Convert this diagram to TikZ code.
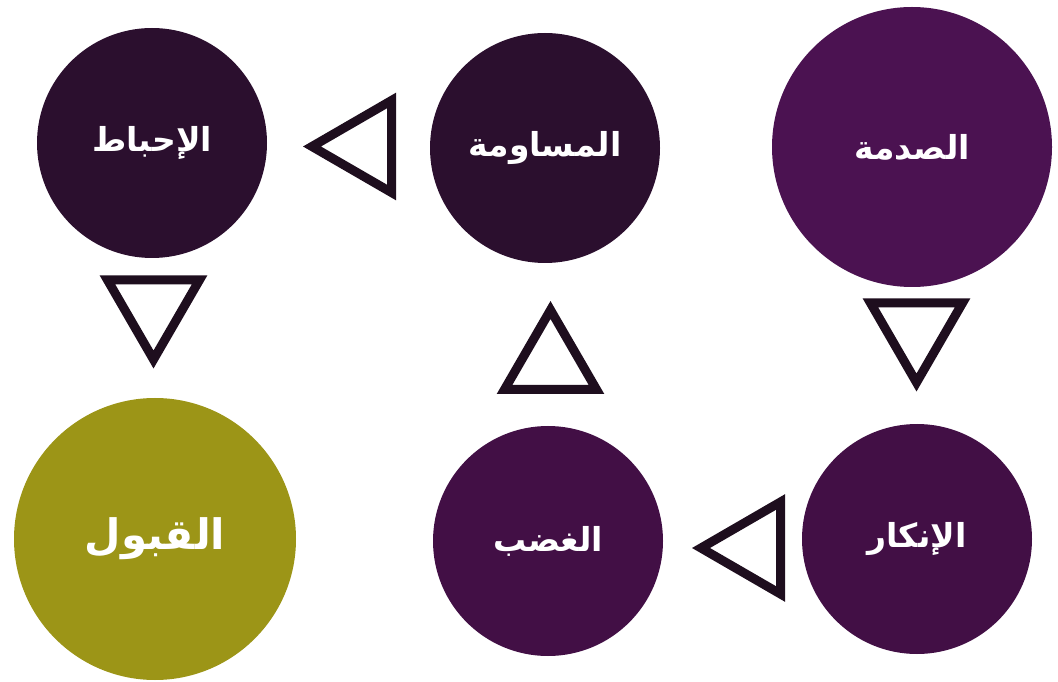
\documentclass[tikz,border=0pt]{standalone}
\usepackage{fontspec}
\usepackage{tikz}
\usetikzlibrary{calc}
\newfontfamily\arabicfont[Script=Arabic]{DejaVu Sans}
\TeXXeTstate=1

\definecolor{plumdark}{HTML}{2B0F2E}
\definecolor{plummid}{HTML}{420F45}
\definecolor{plumlight}{HTML}{4B1251}
\definecolor{olivegold}{HTML}{9C9517}
\definecolor{triline}{HTML}{1E0E1E}

\tikzset{
    stage/.style={circle, draw=none, inner sep=0pt, text=white,
        font=\arabicfont\bfseries\fontsize{33}{38}\selectfont},
    tri/.style={draw=triline, line width=9pt, miter limit=10, fill=white}
}

\begin{document}
\begin{tikzpicture}[x=1pt, y=1pt]
    \useasboundingbox (0, 0) rectangle (1058, 681);

    % Top row: shock, bargaining, depression
    \node[stage, fill=plumlight, minimum size=280pt] (shock) at (912, 534) {\beginR الصدمة\endR};
    \node[stage, fill=plumdark, minimum size=230pt] (bargain) at (545, 533) {\beginR المساومة\endR};
    \node[stage, fill=plumdark, minimum size=230pt] (depress) at (152, 538) {\beginR الإحباط\endR};

    % Bottom row: denial, anger, acceptance
    \node[stage, fill=plummid, minimum size=230pt] (denial) at (917, 142) {\beginR الإنكار\endR};
    \node[stage, fill=plummid, minimum size=230pt] (anger) at (548, 140) {\beginR الغضب\endR};
    \node[stage, fill=olivegold, minimum size=282pt,
        font=\arabicfont\bfseries\fontsize{42}{48}\selectfont] (accept) at (155, 142) {\beginR القبول\endR};

    % Triangles between the stages
    \draw[tri, shift={($(shock)!0.5!(denial)+(2,-2)$)}, rotate=-90]
        (37.5, 0) -- (-42, 46) -- (-42, -46) -- cycle;
    \draw[tri, shift={($(denial)!0.5!(anger)+(6,-8)$)}, rotate=180]
        (37.5, 0) -- (-42, 46) -- (-42, -46) -- cycle;
    \draw[tri, shift={($(anger)!0.5!(bargain)+(4,-3)$)}, rotate=90]
        (37.5, 0) -- (-42, 46) -- (-42, -46) -- cycle;
    \draw[tri, shift={($(bargain)!0.5!(depress)+(1,-1)$)}, rotate=180]
        (37.5, 0) -- (-42, 46) -- (-42, -46) -- cycle;
    \draw[tri, shift={($(depress)!0.5!(accept)+(0,19)$)}, rotate=-90]
        (37.5, 0) -- (-42, 46) -- (-42, -46) -- cycle;
\end{tikzpicture}
\end{document}
